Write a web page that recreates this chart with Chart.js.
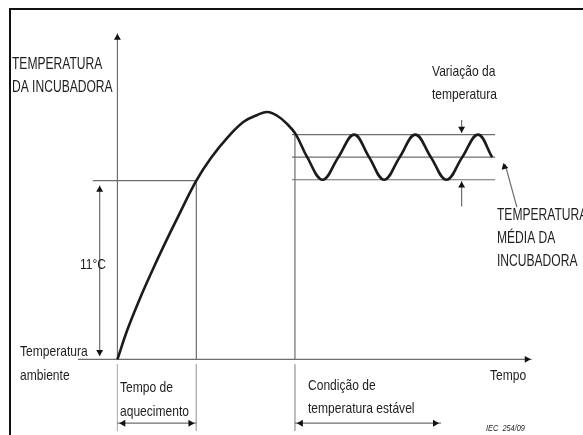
<!DOCTYPE html>
<html>
<head>
<meta charset="utf-8">
<script src="https://cdn.jsdelivr.net/npm/chart.js@4.4.1/dist/chart.umd.min.js"></script>
<style>
  html, body { margin: 0; padding: 0; background: #fff; }
  #wrap { position: relative; width: 583px; height: 435px; overflow: hidden; }
  #wrap::after {
    content: ""; position: absolute; left: 9px; top: 8px; right: -10px; bottom: -10px;
    border-top: 2px solid #111; border-left: 2px solid #111; pointer-events: none;
  }
  canvas { display: block; }
</style>
</head>
<body>
<div id="wrap"><canvas id="myChart" width="583" height="435"></canvas></div>
<script>
// time (arbitrary units) and temperature above ambient (°C)
const heatTime = [0, 0.5, 1.1, 1.7, 2.35, 3.1, 4.0, 4.75, 5.6, 6.4, 7.1, 7.6, 8.1, 8.6, 9.05, 9.62, 10.4, 11.2, 12.0, 12.76, 13.52, 14.31, 15.1, 15.89, 16.68, 17.48, 18.28, 19.0];
const heatTemp = [0, 1.81, 3.63, 5.29, 6.99, 8.85, 11.0, 12.41, 13.68, 14.63, 15.05, 15.23, 15.0, 14.5, 13.84, 12.45, 11.06, 12.45, 13.84, 12.45, 11.06, 12.45, 13.84, 12.45, 11.06, 12.45, 13.84, 12.45];

const ambientTemp = 0;
const riseTemp = 11;          // the 11°C step
const bandHigh = 13.84;
const bandMean = 12.45;
const bandLow = 11.06;
const warmupEnd = 4;
const stableStart = 9;
const bandFrom = 8.85;
const bandTo = 19.15;
const axisTop = 20.07;
const axisEnd = 21;
const dimTime = -0.9;         // the 11°C dimension line
const rangeTime = 17.45;      // "Variação" arrows
const spanLevel = -3.93;      // bottom span arrows
const stableSpanEnd = 16.4;

const seg = (list) => {
  let out = [];
  list.forEach(s => {
    out.push({x: s[0], y: s[1]});
    out.push({x: s[2], y: s[3]});
    out.push({x: s[2], y: null});
  });
  return out;
};

const guideLines = seg([
  [0, ambientTemp, 0, axisTop],
  [-2, ambientTemp, axisEnd, ambientTemp],
  [-1.25, riseTemp, warmupEnd, riseTemp],
  [warmupEnd, riseTemp, warmupEnd, ambientTemp],
  [stableStart, bandHigh + 0.2, stableStart, ambientTemp],
  [bandFrom, bandHigh, bandTo, bandHigh],
  [bandFrom, bandMean, bandTo, bandMean],
  [bandFrom, bandLow, bandTo, bandLow],
  [dimTime, riseTemp - 0.3, dimTime, ambientTemp + 0.2],
  [rangeTime, bandHigh + 0.9, rangeTime, bandHigh + 0.1],
  [rangeTime, bandLow - 1.65, rangeTime, bandLow - 0.1],
  [19.65, 12.03, 20.25, 9.37],
  [0, spanLevel, warmupEnd, spanLevel],
  [stableStart, spanLevel, stableSpanEnd, spanLevel]
]);

const extLines = seg([
  [0, -0.3, 0, -4.5],
  [warmupEnd, -0.3, warmupEnd, -4.5],
  [stableStart, -0.3, stableStart, -4.5]
]);

const arrowX = [0, 20.75, dimTime, dimTime, rangeTime, rangeTime, 19.62, 0.3, 3.7, 9.3, 16.1];
const arrowY = [19.8, 0, 10.45, 0.45, 14.2, 10.7, 11.85, spanLevel, spanLevel, spanLevel, spanLevel];
const arrowRot = [0, 90, 0, 180, 180, 0, -15, 270, 90, 270, 90];

const data = {
  datasets: [
    {
      label: 'curve',
      data: heatTime.map((t, i) => ({x: t, y: heatTemp[i]})),
      showLine: true,
      borderColor: '#1b1b1b',
      borderWidth: 2.6,
      pointRadius: 0,
      tension: 0.4
    },
    {
      label: 'arrows',
      data: arrowX.map((t, i) => ({x: t, y: arrowY[i]})),
      showLine: false,
      pointStyle: 'triangle',
      pointRadius: 4,
      pointRotation: arrowRot,
      backgroundColor: '#111',
      borderColor: '#111',
      borderWidth: 0
    },
    {
      label: 'guides',
      data: guideLines,
      showLine: true,
      spanGaps: false,
      borderColor: '#6e6e6e',
      borderWidth: 1.2,
      pointRadius: 0
    },
    {
      label: 'ext',
      data: extLines,
      showLine: true,
      spanGaps: false,
      borderColor: '#b5b5b5',
      borderWidth: 1,
      pointRadius: 0
    }
  ]
};

// pick a condensed face if present, else squeeze Liberation Sans
const probe = document.createElement('canvas').getContext('2d');
probe.font = '20px "Liberation Sans Narrow", monospace';
const wNarrow = probe.measureText('TEMPERATURA abc').width;
probe.font = '20px monospace';
const wMono = probe.measureText('TEMPERATURA abc').width;
const hasNarrow = Math.abs(wNarrow - wMono) > 1;
const face = hasNarrow ? '"Liberation Sans Narrow"' : '"Liberation Sans", Arial';
const squeeze = hasNarrow ? 1 : 0.82;

// text, x, y, size, style, extra horizontal squeeze
const texts = [
  ['TEMPERATURA', 12, 65, 16, '', 0.92],
  ['DA INCUBADORA', 12, 88, 16, '', 0.92],
  ['Variação da', 432, 72, 15, '', 0.98],
  ['temperatura', 432, 95, 15, '', 0.98],
  ['11°C', 80, 265, 15, '', 0.98],
  ['Temperatura', 20, 352, 15, '', 0.98],
  ['ambiente', 20, 376, 15, '', 0.98],
  ['Tempo de', 120, 388, 15, '', 0.98],
  ['aquecimento', 120, 412, 15, '', 0.98],
  ['Condição de', 308, 386, 15, '', 0.98],
  ['temperatura estável', 308, 409, 15, '', 0.98],
  ['Tempo', 490, 376, 15, '', 0.98],
  ['TEMPERATURA', 497, 216, 16, '', 0.92],
  ['MÉDIA DA', 497, 239, 16, '', 0.92],
  ['INCUBADORA', 497, 262, 16, '', 0.92],
  ['IEC  254/09', 486, 428, 9, 'italic ', 1]
];

const textPlugin = {
  id: 'texts',
  afterDraw(chart) {
    const c = chart.ctx;
    c.save();
    c.fillStyle = '#1e1e1e';
    c.textBaseline = 'middle';
    c.textAlign = 'left';
    texts.forEach(t => {
      c.save();
      c.font = t[4] + t[3] + 'px ' + face;
      c.translate(t[1], t[2]);
      c.scale(squeeze * t[5], 1);
      c.fillText(t[0], 0, 0);
      c.restore();
    });
    c.restore();
  }
};

const config = {
  type: 'scatter',
  data: data,
  options: {
    responsive: false,
    animation: false,
    events: [],
    layout: { padding: 0 },
    plugins: {
      legend: { display: false },
      tooltip: { enabled: false }
    },
    scales: {
      x: { type: 'linear', display: false, min: -5.75, max: 23.4 },
      y: { type: 'linear', display: false, min: -4.41, max: 21.88 }
    }
  },
  plugins: [textPlugin]
};

const myChart = new Chart(document.getElementById('myChart'), config);
</script>
</body>
</html>
